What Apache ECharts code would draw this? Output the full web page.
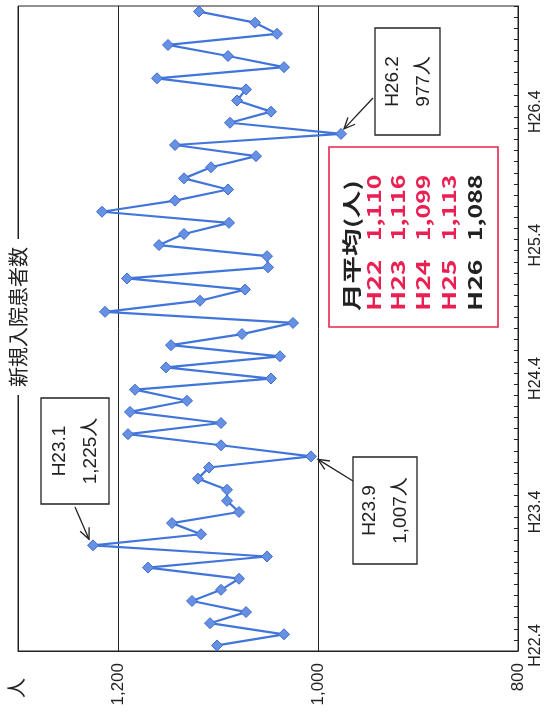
<!DOCTYPE html>
<html><head><meta charset="utf-8">
<script src="https://cdn.jsdelivr.net/npm/echarts@6/dist/echarts.min.js"></script>
<style>html,body{margin:0;padding:0;background:#fff}#c{width:548px;height:718px}</style>
</head><body><div id="c"></div>
<script>
// months (category axis, bottom -> top)
const months = [
  'H22.4','H22.5','H22.6','H22.7','H22.8','H22.9','H22.10','H22.11','H22.12',
  'H23.1','H23.2','H23.3','H23.4','H23.5','H23.6','H23.7','H23.8','H23.9','H23.10','H23.11','H23.12',
  'H24.1','H24.2','H24.3','H24.4','H24.5','H24.6','H24.7','H24.8','H24.9','H24.10','H24.11','H24.12',
  'H25.1','H25.2','H25.3','H25.4','H25.5','H25.6','H25.7','H25.8','H25.9','H25.10','H25.11','H25.12',
  'H26.1','H26.2','H26.3','H26.4','H26.5','H26.6','H26.7','H26.8','H26.9','H26.10','H26.11','H26.12',
  'H27.1'
];
// new inpatients per month
const patients = [
  1101,1034,1108,1072,1126,1097,1079,1170,1051,
  1225,1117,1146,1079,1091,1091,1120,1109,1007,1097,1190,1097,
  1188,1131,1183,1047,1152,1038,1147,1076,1025,1213,1118,1073,
  1191,1050,1051,1159,1134,1089,1216,1143,1090,1134,1107,1062,
  1143,977,1088,1047,1081,1072,1161,1034,1090,1150,1041,1063,
  1119
];
const valueMin = 800, valueMax = 1300, valueStep = 200;
const avgTitle = '月平均(人)';
const avgYears = ['H22','H23','H24','H25','H26'];
const avgValues = ['1,110','1,116','1,099','1,113','1,088'];
const calloutMonths = ['H23.1','H23.9','H26.2'];
const calloutTexts = ['1,225人','1,007人','977人'];
const chartTitle = '新規入院患者数';
const unitLabel = '人';

const chart = echarts.init(document.getElementById('c'), null, {renderer:'canvas'});
const NARROW = "'Liberation Sans Narrow','Liberation Sans',sans-serif";
const JP = "'Liberation Sans','Noto Sans CJK JP',sans-serif";
const GOTHIC = "'Noto Sans CJK JP',sans-serif";

chart.setOption({
  animation:false,
  backgroundColor:'#fff',
  grid:{left:18, right:30, top:6, bottom:67, show:true, borderColor:'#222', borderWidth:1, containLabel:false},
  xAxis:{
    type:'value', min:valueMin, max:valueMax, interval:valueStep, inverse:true, position:'bottom',
    axisLine:{show:true, lineStyle:{color:'#222', width:1}},
    axisTick:{show:false},
    splitLine:{show:true, lineStyle:{color:'#222', width:1}},
    axisLabel:{rotate:90, margin:12, color:'#222', fontFamily:NARROW, fontSize:17, showMaxLabel:false,
      formatter:v => v===valueMax ? '' : v.toLocaleString('en-US')}
  },
  yAxis:{
    type:'category', data:months, position:'right', boundaryGap:true,
    axisLine:{show:true, lineStyle:{color:'#222', width:1}},
    axisTick:{show:true, inside:true, length:4, interval:0, lineStyle:{color:'#222'}},
    splitLine:{show:false},
    axisLabel:{interval:11, rotate:90, margin:10, color:'#222', fontFamily:NARROW, fontSize:16}
  },
  series:[{
    type:'line', data:patients,
    lineStyle:{color:'#4275da', width:2.2},
    symbol:'diamond', symbolSize:11, showAllSymbol:true,
    itemStyle:{color:'#6690e4', borderColor:'#3d6ccc', borderWidth:1}
  }]
});

function arrow(x1,y1,x2,y2){
  const a = Math.atan2(y2-y1, x2-x1), L = 12, s = 0.42;
  return [
    {type:'line', shape:{x1:x1,y1:y1,x2:x2,y2:y2}, style:{stroke:'#222', lineWidth:1.3}, z:100},
    {type:'polyline', shape:{points:[[x2-L*Math.cos(a-s), y2-L*Math.sin(a-s)],[x2,y2],[x2-L*Math.cos(a+s), y2-L*Math.sin(a+s)]]},
      style:{stroke:'#222', lineWidth:1.3, fill:null}, z:100}
  ];
}
function rtext(x,y,text,opt){
  opt = opt||{};
  return {type:'text', x:x, y:y, rotation:Math.PI/2, scaleX:opt.sx||1, z:101,
    style:{text:text, fill:opt.color||'#222', font:(opt.weight||'normal')+' '+(opt.size||19)+'px '+(opt.family||JP),
      align:opt.align||'center', verticalAlign:'middle', backgroundColor:opt.bg, padding:opt.pad}};
}

const pt = i => chart.convertToPixel({gridIndex:0}, [patients[i], i]);
// callout box layouts: [box x, box y, w, h, arrow start x, arrow start y, tip dx, tip dy]
const layouts = [
  [41, 398, 68, 106, 75, 507, -4, -6],
  [353, 457, 64, 107, 353, 481, 7, 3],
  [375, 28, 65, 107, 373, 98, 3, -5]
];
const g = [];
calloutMonths.forEach((m, k) => {
  const i = months.indexOf(m);
  const p = pt(i);
  const L = layouts[k];
  g.push({type:'rect', shape:{x:L[0], y:L[1], width:L[2], height:L[3]}, style:{fill:'#fff', stroke:'#222', lineWidth:1.3}, z:99});
  const cx = L[0] + L[2]/2, cy = L[1] + L[3]/2;
  g.push(rtext(cx-15, cy, m, {size:19}));
  g.push(rtext(cx+16, cy, calloutTexts[k], {size:19}));
  g.push(...arrow(L[4], L[5], p[0]+L[6], p[1]+L[7]));
});
// monthly average box
g.push({type:'rect', shape:{x:329, y:147, width:169, height:180}, style:{fill:'#fff', stroke:'#e8264f', lineWidth:1.6}, z:99});
g.push(rtext(352, 311, avgTitle, {size:19, weight:'bold', align:'left', sx:1.45, family:GOTHIC}));
const avgCols = [374, 398, 423, 449, 475];
avgYears.forEach((yv, k) => {
  const col = k < 4 ? '#ea1f52' : '#222';
  g.push(rtext(avgCols[k], 311, yv, {size:19, weight:'bold', align:'left', sx:1.4, color:col, family:GOTHIC}));
  g.push(rtext(avgCols[k], 241, avgValues[k], {size:19, weight:'bold', align:'left', sx:1.3, color:col, family:GOTHIC}));
});
// title over left border
g.push(rtext(18, 317, chartTitle, {size:20, bg:'#fff', pad:[2,8], family:GOTHIC}));
// unit
g.push(rtext(16, 688, unitLabel, {size:20, family:GOTHIC}));
chart.setOption({graphic:g});
</script></body></html>
